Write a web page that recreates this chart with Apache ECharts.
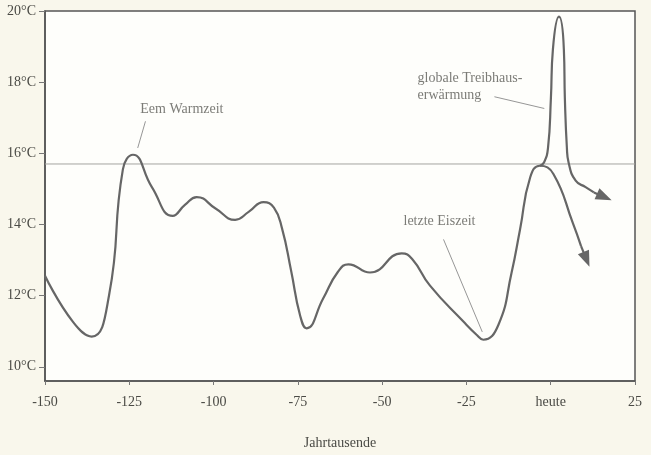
<!DOCTYPE html>
<html>
<head>
<meta charset="utf-8">
<script src="https://cdn.jsdelivr.net/npm/echarts@6/dist/echarts.min.js"></script>
<style>
html,body{margin:0;padding:0;background:#f9f7ec;}
#chart{width:651px;height:455px;}
</style>
</head>
<body>
<div id="chart"></div>
<script>
// ---- data (thousands of years, °C) ----
const xTicks = [-150, -125, -100, -75, -50, -25, 0, 25];
const yTicks = [10, 12, 14, 16, 18, 20];
const referenceTemp = 15.7;

const pastCurve = [
  [-150, 12.56], [-141.7, 11.26], [-136.15, 10.85], [-131.0, 12.01],
  [-126.9, 15.55], [-123.9, 15.96], [-118.3, 15.05],
  [-112.1, 14.24], [-108.5, 14.55], [-105.0, 14.77], [-99.3, 14.44],
  [-93.6, 14.13], [-89.5, 14.36], [-85.2, 14.63], [-82.1, 14.47], [-79.7, 13.89],
  [-77.0, 12.70], [-74.35, 11.45], [-72.4, 11.08], [-67.5, 11.92], [-63.1, 12.67],
  [-60.0, 12.88], [-53.6, 12.65], [-44.2, 13.19],
  [-41.1, 13.03], [-35.8, 12.28], [-25.9, 11.27], [-22.0, 10.9], [-20.0, 10.76],
  [-15.5, 11.18], [-11.6, 12.65], [-9.1, 13.86], [-6.1, 15.32], [-3.2, 15.65],
  [0.8, 15.42], [6.6, 14.03], [9.0, 13.39]
];
const naturalArrow = [[9.0, 13.39], [10.6, 13.02]];

const greenhouseCurve = [
  [-3.2, 15.65], [-2.0, 15.74], [-0.8, 16.15], [0.05, 17.54], [0.65, 18.92],
  [2.45, 19.84], [3.9, 18.92], [4.2, 17.54], [4.8, 16.15], [5.3, 15.74],
  [7.4, 15.23], [10.35, 15.05], [12.8, 14.9]
];
const greenhouseArrow = [[12.8, 14.9], [15.9, 14.77]];

const labelTexts = ['Eem Warmzeit', 'letzte Eiszeit', 'globale Treibhaus-\nerwärmung'];
const labelAnchors = [[-109.4, 17.23], [-33.0, 14.08], [-39.5, 17.86]];
const leaderLines = [
  [[-120.2, 16.9], [-122.5, 16.15]],
  [[-31.8, 13.58], [-20.3, 10.98]],
  [[-16.7, 17.59], [-1.9, 17.26]]
];

// ---- chart ----
const FONT = '"Liberation Serif", "DejaVu Serif", serif';
const CURVE = '#666';
const chart = echarts.init(document.getElementById('chart'));

const arrowMark = (seg) => ({
  silent: true,
  symbol: ['none', 'triangle'],
  symbolSize: [12, 16],
  label: {show: false},
  lineStyle: {color: CURVE, width: 2.2, type: 'solid'},
  itemStyle: {color: CURVE},
  emphasis: {disabled: true},
  data: [[{coord: seg[0]}, {coord: seg[1]}]]
});

const series = [
  {
    type: 'line', data: pastCurve, smooth: 0.5,
    showSymbol: false, symbol: 'none',
    lineStyle: {color: CURVE, width: 2.2}, silent: true, z: 5,
    markLine: arrowMark(naturalArrow)
  },
  {
    type: 'line', data: greenhouseCurve, smooth: 0.5, showSymbol: false, symbol: 'none',
    lineStyle: {color: CURVE, width: 2.2}, silent: true, z: 5,
    markLine: arrowMark(greenhouseArrow)
  },
  {
    type: 'line', data: [[-150, referenceTemp], [25, referenceTemp]], symbol: 'none',
    lineStyle: {color: '#a5a5a0', width: 1}, silent: true, z: 2
  }
];
leaderLines.forEach(seg => series.push({
  type: 'line', data: seg, symbol: 'none', silent: true, z: 3,
  lineStyle: {color: '#8a8a8a', width: 0.9}
}));
series.push({
  type: 'scatter', silent: true, z: 6,
  symbolSize: 1, itemStyle: {color: 'rgba(0,0,0,0)'},
  data: labelAnchors.map((p, i) => ({
    value: p,
    label: {
      show: true, formatter: labelTexts[i], position: 'inside',
      align: i === 2 ? 'left' : 'center', verticalAlign: 'middle',
      color: '#5a5a55', fontFamily: FONT, fontSize: 14, lineHeight: 17
    }
  }))
});

chart.setOption({
  backgroundColor: '#f9f7ec',
  animation: false,
  grid: {
    left: 45, right: 16, top: 11, bottom: 68,
    show: true, backgroundColor: '#fefefb', borderColor: '#555', borderWidth: 1.5
  },
  xAxis: {
    type: 'value', min: -150, max: 25, interval: 25,
    name: 'Jahrtausende', nameLocation: 'middle', nameGap: 55,
    nameTextStyle: {color: '#4a4a45', fontFamily: FONT, fontSize: 14},
    axisLine: {show: true, onZero: false, lineStyle: {color: '#555', width: 1.5}},
    axisTick: {show: true, length: 4, lineStyle: {color: '#777'}},
    splitLine: {show: false},
    axisLabel: {
      color: '#4a4a45', fontFamily: FONT, fontSize: 14, margin: 14,
      customValues: xTicks,
      formatter: v => v === 0 ? 'heute' : String(v)
    }
  },
  yAxis: {
    type: 'value', min: 9.6, max: 20,
    axisLine: {show: true, onZero: false, lineStyle: {color: '#555', width: 1.5}},
    axisTick: {show: true, length: 6, customValues: yTicks, lineStyle: {color: '#777'}},
    splitLine: {show: false},
    axisLabel: {
      color: '#4a4a45', fontFamily: FONT, fontSize: 14, margin: 9,
      customValues: yTicks,
      formatter: v => v + '°C'
    }
  },
  series: series
});
</script>
</body>
</html>
